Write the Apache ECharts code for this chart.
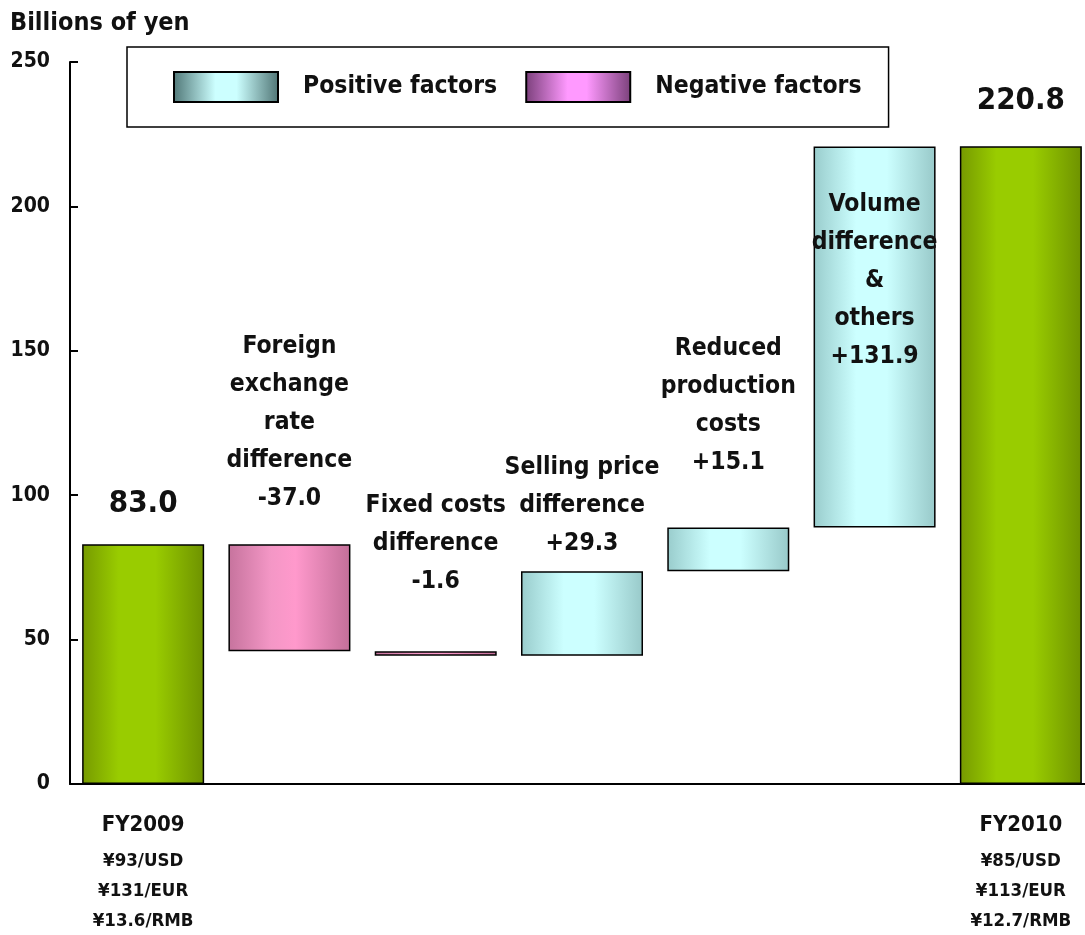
<!DOCTYPE html>
<html><head><meta charset="utf-8">
<script src="https://cdn.jsdelivr.net/npm/echarts@6/dist/echarts.min.js"></script>
<style>html,body{margin:0;padding:0;background:#fff}#c{width:1085px;height:935px}</style>
</head><body><div id="c"></div>
<script>
// ---- data ----
const categories = ['FY2009','Foreign exchange rate difference','Fixed costs difference','Selling price difference','Reduced production costs','Volume difference & others','FY2010'];
const annotations = ['', 'Foreign\nexchange\nrate\ndifference', 'Fixed costs\ndifference', 'Selling price\ndifference', 'Reduced\nproduction\ncosts', 'Volume\ndifference\n&\nothers', ''];
const values = [83.0, -37.0, -1.6, 29.3, 15.1, 131.9, 220.8];
const isTotal = [true, false, false, false, false, false, true];
const rateLines = { 'FY2009': ['¥93/USD','¥131/EUR','¥13.6/RMB'], 'FY2010': ['¥85/USD','¥113/EUR','¥12.7/RMB'] };
const yTicks = [0, 50, 100, 150, 200, 250];
const legendNames = ['Positive factors', 'Negative factors'];

// ---- layout / style ----
const FONT = '"Liberation Sans Narrow","DejaVu Sans Condensed","Liberation Sans",sans-serif';
const labelGap = [20, 27, 51, 9, 46, 39, 25];
const grad = (stops) => new echarts.graphic.LinearGradient(0,0,1,0, stops.map(s=>({offset:s[0],color:s[1]})));
const greenG = () => grad([[0,'#769a00'],[0.3,'#99cc00'],[0.6,'#99cc00'],[1,'#6e9200']]);
const pinkG = () => grad([[0,'#c6739d'],[0.35,'#f497c6'],[0.55,'#ff99cc'],[1,'#c36f99']]);
const cyanG = () => grad([[0,'#99cccc'],[0.35,'#ccffff'],[0.6,'#ccffff'],[1,'#98c9c9']]);
const legPos = grad([[0,'#4f7676'],[0.4,'#ccffff'],[0.6,'#ccffff'],[1,'#4f7474']]);
const legNeg = grad([[0,'#7a3f7a'],[0.4,'#ff99ff'],[0.58,'#ff99ff'],[1,'#7a407a']]);

// derive base / height
let total = 0; const base = [], height = [];
values.forEach((v,i)=>{
  if (isTotal[i]) { base.push(0); height.push(v); total = v; }
  else if (v < 0) { base.push(+(total+v).toFixed(1)); height.push(-v); total = +(total+v).toFixed(1); }
  else { base.push(total); height.push(v); total = +(total+v).toFixed(1); }
});

const fmt = (i) => isTotal[i] ? values[i].toFixed(1) : (values[i] > 0 ? '+' : '') + values[i].toFixed(1);

const barData = height.map((h,i)=>{
  const col = isTotal[i] ? greenG() : (values[i] < 0 ? pinkG() : cyanG());
  const inside = i === 5;
  const txt = isTotal[i] ? '{t|' + fmt(i) + '}' : (annotations[i] + '\n' + fmt(i)).split('\n').map(l=>'{a|'+l+'}').join('\n');
  return {
    value: h,
    itemStyle: { color: col, borderColor: '#000', borderWidth: 1.5 },
    label: { show: true, position: inside ? 'insideTop' : 'top', distance: labelGap[i], formatter: txt,
      rich: { a: { fontFamily: FONT, fontSize: 24.5, fontWeight: 'bold', color: '#111', lineHeight: 38, align: 'center' },
              t: { fontFamily: FONT, fontSize: 31, fontWeight: 'bold', color: '#111', lineHeight: 40, align: 'center' } } }
  };
});

const chart = echarts.init(document.getElementById('c'), null, {renderer:'canvas'});
chart.setOption({
  animation: false,
  backgroundColor: '#fff',
  grid: { left: 70, top: 62, width: 1024, bottom: 151, containLabel: false, outerBoundsMode: 'none' },
  legend: {
    data: legendNames, left: 127, top: 47, orient: 'horizontal', icon: 'rect',
    itemWidth: 104, itemHeight: 30, itemGap: 28,
    padding: [24, 27, 24, 46],
    borderColor: '#000', borderWidth: 1.5, backgroundColor: '#fff',
    textStyle: { fontFamily: FONT, fontSize: 24.5, fontWeight: 'bold', color: '#111', padding: [0,0,0,20] },
    selectedMode: false
  },
  xAxis: {
    type: 'category', data: categories,
    axisLine: { lineStyle: { color: '#000', width: 2 } },
    axisTick: { show: false },
    axisLabel: { interval: 0, margin: 20,
      formatter: (v) => rateLines[v] ? '{h|' + v + '}\n' + rateLines[v].map(r=>'{r|'+r+'}').join('\n') : '',
      rich: { h: { fontFamily: FONT, fontSize: 22, fontWeight: 'bold', color: '#111', lineHeight: 42 },
              r: { fontFamily: FONT, fontSize: 18.5, fontWeight: 'bold', color: '#111', lineHeight: 30 } } }
  },
  yAxis: {
    type: 'value', min: yTicks[0], max: yTicks[yTicks.length-1], interval: 50,
    name: 'Billions of yen', nameLocation: 'end', nameGap: 26,
    nameTextStyle: { fontFamily: FONT, fontSize: 25, fontWeight: 'bold', color: '#111', align: 'left', padding: [0,0,0,-60] },
    axisLine: { show: true, lineStyle: { color: '#000', width: 2 } },
    axisTick: { show: true, inside: true, length: 8, lineStyle: { color: '#000', width: 2 } },
    splitLine: { show: false },
    axisLabel: { margin: 20, fontFamily: FONT, fontSize: 21, fontWeight: 'bold', color: '#111' }
  },
  series: [
    { name: 'base', type: 'bar', stack: 'w', data: base, barWidth: 122, itemStyle: { color: 'transparent' }, silent: true },
    { name: 'bars', type: 'bar', stack: 'w', data: barData, barWidth: 122 },
    { name: legendNames[0], type: 'bar', stack: 'w', data: [], itemStyle: { color: legPos, borderColor: '#000', borderWidth: 2 } },
    { name: legendNames[1], type: 'bar', stack: 'w', data: [], itemStyle: { color: legNeg, borderColor: '#000', borderWidth: 2 } }
  ]
});
</script></body></html>
